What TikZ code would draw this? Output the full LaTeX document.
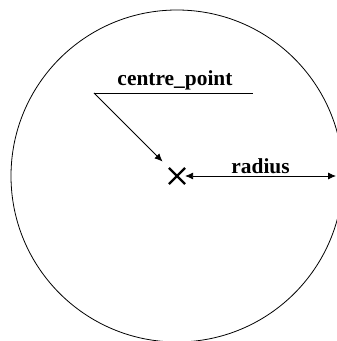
\documentclass[tikz,border=0pt]{standalone}
\usepackage{fontspec}
\setmainfont{Liberation Serif}
\usetikzlibrary{shapes.misc,arrows.meta}
\begin{document}
\begin{tikzpicture}[x=1bp, y=1bp, >={Latex[length=8bp,width=7bp]}, line width=0.8pt,
		font=\fontsize{21.5}{26}\selectfont\bfseries]
		% --- 1. Bounding box ---
		\useasboundingbox (0,0) rectangle (337,341);
		\clip (0,0) rectangle (337,341);
		
		% --- 2. Points ---
		\coordinate (C) at (177,165);      % centre of the circle
		\coordinate (ulA) at (94,248);     % left end of the underline
		\coordinate (ulB) at (253,248);    % right end of the underline
		\coordinate (rimE) at (336,165);   % end of the radius arrow
		
		% --- 3. Circle ---
		\draw (C) circle (166);
		
		% --- 4. Centre mark ---
		\node[cross out, draw, line width=2.2pt, minimum size=14bp, inner sep=0pt] (ctr) at (C) {};
		
		% --- 5. Label centre_point with underline and arrow ---
		\node[anchor=base] (lbl) at (175,256) {centre\_point};
		\draw (ulA) -- (ulB);
		\draw[->] (ulA) -- (ctr) [shorten >=9bp];
		
		% --- 6. Radius ---
		\draw[<->] (ctr.east) -- (rimE) node[midway, above, yshift=-1pt] (rad) {radius};
	\end{tikzpicture}
\end{document}
